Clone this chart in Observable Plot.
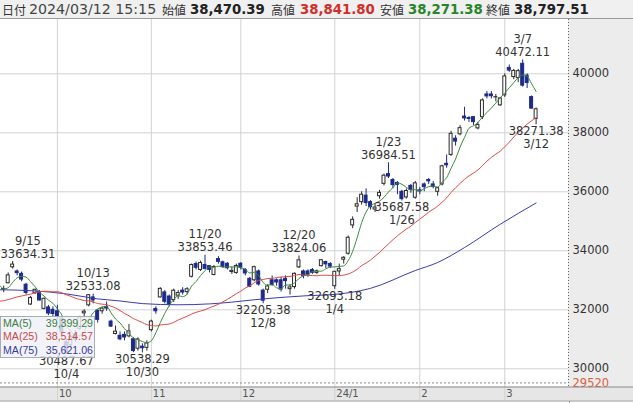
<!DOCTYPE html>
<html><head><meta charset="utf-8">
<script src="https://cdn.jsdelivr.net/npm/d3@7"></script>
<script src="https://cdn.jsdelivr.net/npm/@observablehq/plot@0.6"></script>
<style>
body{margin:0;width:633px;height:403px;overflow:hidden;background:#fff;position:relative;font-family:"DejaVu Sans",sans-serif}
#hdr{position:absolute;left:0;top:0;width:633px;height:18px;background:#f0f0f0;border-bottom:1px solid #9a9a9a}
#hdr span{position:absolute;top:0;line-height:19px;white-space:nowrap}
#hdr .jp{font-family:"Noto Sans CJK JP",sans-serif;font-size:12px;color:#333}
#hdr .dt{font-family:"DejaVu Sans";font-size:14.2px;color:#444}
#hdr .num{font-family:"DejaVu Sans";font-weight:bold;font-size:13.3px;color:#222}
#chart{position:absolute;left:0;top:19px}
#legend{position:absolute;left:0;top:316px;width:93px;height:40px;background:rgba(238,240,247,0.82);border:1px solid #a9abb9;font-family:"Liberation Sans",Arial,sans-serif;font-size:10.6px}
#legend .row{display:flex;justify-content:space-between;height:13.4px;line-height:13.4px;padding:0 1px 0 2px}
</style></head>
<body>
<div id="hdr"></div>
<div id="chart"></div>
<div id="legend"></div>
<script>
// ---- header values ----
const headerLabels = ["日付", "始値", "高値", "安値", "終値"];
const headerDate = "2024/03/12 15:15";
const headerValues = ["38,470.39", "38,841.80", "38,271.38", "38,797.51"];

// ---- daily candles (Nikkei 225) ----
const dates = ["9/13","9/14","9/15","9/19","9/20","9/21","9/22","9/25","9/26","9/27","9/28","9/29",
"10/2","10/3","10/4","10/5","10/6","10/10","10/11","10/12","10/13","10/16","10/17","10/18","10/19","10/20","10/23","10/24","10/25","10/26","10/27","10/30","10/31",
"11/1","11/2","11/6","11/7","11/8","11/9","11/10","11/13","11/14","11/15","11/16","11/17","11/20","11/21","11/22","11/24","11/27","11/28","11/29","11/30",
"12/1","12/4","12/5","12/6","12/7","12/8","12/11","12/12","12/13","12/14","12/15","12/18","12/19","12/20","12/21","12/22","12/25","12/26","12/27","12/28","12/29",
"1/4","1/5","1/9","1/10","1/11","1/12","1/15","1/16","1/17","1/18","1/19","1/22","1/23","1/24","1/25","1/26","1/29","1/30","1/31",
"2/1","2/2","2/5","2/6","2/7","2/8","2/9","2/13","2/14","2/15","2/16","2/19","2/20","2/21","2/22","2/26","2/27","2/28","2/29",
"3/1","3/4","3/5","3/6","3/7","3/8","3/11","3/12"];

const opens = [32690,32900,33440,33300,33220,32850,32180,32560,32600,32030,32080,32000,
31950,31700,30900,30800,31150,31350,31880,32150,32420,31970,31950,32100,31600,31180,31120,31150,31100,31000,30680,30750,30710,
31310,32030,32420,32590,32450,32330,32480,32650,32600,33120,33550,33350,33520,33480,33180,33720,33610,33560,33280,33250,
33560,33350,33050,33000,33300,32650,32680,33000,33000,33000,33050,32700,32770,33440,33300,33300,33350,33250,33480,33620,33550,
32800,33300,33700,33900,34860,35500,35650,35870,35650,35400,35850,36270,36600,36400,36300,36000,35810,36200,35800,
36050,36250,36400,36250,36000,36250,36950,37250,37800,37950,38550,38500,38530,38150,38530,39300,39300,39200,38930,
39270,40200,39890,39860,40340,39940,39210,38470.39];

const highs = [32800,33250,33634.31,33350,33280,32900,32450,32700,32650,32400,32150,32100,
32150,31720,31000,31150,31300,31780,32000,32520,32533.08,32000,32100,32260,31650,31450,31250,31250,31500,31050,31050,30850,30950,
31650,32100,32750,32650,32500,32700,32650,32750,32750,33550,33620,33650,33853.46,33500,33500,33800,33650,33600,33450,33550,
33600,33400,33100,33480,33350,32700,32850,33150,33050,33100,33150,32850,33250,33824.06,33350,33350,33400,33350,33700,33650,33600,
33300,33550,33800,34500,35150,35800,36000,36100,35700,35600,36050,36600,36984.51,36450,36350,36050,36100,36250,36350,
36150,36300,36450,36350,36150,36900,37250,38050,37900,38250,38865,38550,38550,38350,39150,39400,39400,39300,39200,
40000,40300,40150,40150,40472.11,40000,39250,38841.80];

const lows = [32580,32880,33380,33150,32950,32500,32150,32520,32300,32000,31800,31750,
31650,31200,30487.67,30700,30900,31300,31700,32100,32200,31550,31850,31950,31400,31150,30950,30950,31050,30550,30600,30538.29,30600,
31250,31850,32400,32200,32100,32250,32350,32500,32500,33080,33350,33300,33350,33250,33150,33550,33400,33350,33200,33200,
33350,33150,32750,32950,32800,32205.38,32550,32800,32800,32600,32700,32500,32700,33400,33050,33100,33200,33200,33450,33400,33400,
32693.18,33150,33550,33850,34750,35300,35550,35500,35380,35300,35750,36200,36450,36100,35900,35687.58,35750,35950,35750,
35900,36000,36250,36100,35850,36200,36800,37200,37550,37900,38400,38350,38250,38100,38450,39150,39150,39050,38900,
39200,40050,39800,39700,39550,39500,38800,38271.38];

const closes = [32706.52,33168.10,33533.09,33242.59,33023.78,32571.03,32402.41,32678.62,32315.05,32371.90,31872.52,31857.62,
31759.88,31237.94,30526.88,31075.36,30994.67,31746.53,31936.51,32494.66,32315.99,31659.03,32040.29,32042.25,31430.62,31259.36,30999.55,31062.35,31269.92,30601.78,30991.69,30696.96,30858.85,
31601.65,31949.89,32708.48,32271.82,32166.48,32646.46,32568.11,32585.11,32695.93,33519.70,33424.41,33585.20,33388.03,33354.14,33451.83,33625.53,33447.67,33408.39,33321.22,33486.89,
33431.51,33231.27,32775.82,33445.90,32858.31,32307.86,32791.80,32843.71,32926.35,32686.25,32970.55,32758.98,33219.39,33675.94,33140.47,33169.05,33254.03,33305.85,33681.24,33539.62,33464.17,
33288.29,33377.42,33763.18,34441.72,35049.86,35577.11,35901.79,35619.18,35477.75,35466.17,35963.27,36546.95,36517.57,36226.48,36236.47,35751.07,36026.94,36065.86,36286.71,
36011.46,36158.02,36354.16,36160.66,36119.92,36863.28,36897.42,37963.97,37703.32,38157.94,38487.24,38470.38,38363.61,38262.16,39098.68,39233.71,39239.52,39208.03,39166.19,
39910.82,40109.23,40097.63,40090.78,39598.71,39688.94,38820.49,38797.51];

// closes before the visible window (for moving-average warm-up), 8/9 .. 9/12
const priorCloses = [32204.33,32473.65,32059.91,32238.89,31766.82,31626.00,31450.76,31565.64,31856.71,32010.26,32287.21,31624.28,
32169.99,32226.97,32333.46,32619.34,32710.62,32939.18,32745.49,33241.02,32991.08,32606.84,32467.76,32776.37];

// 75-day moving average (candle index -> value)
const ma75Idx = [-1, 7, 14, 21, 26, 31, 39, 46, 51, 56, 63, 68, 73, 82, 92, 97, 103, 111, 119];
const ma75Val = [32680, 32640, 32540, 32370, 32300, 32210, 32170, 32200, 32260, 32340, 32430, 32480, 32510, 32728, 33332, 33604, 34110, 34902, 35621];

// legend
const legendNames = ["MA(5)", "MA(25)", "MA(75)"];
const legendValues = ["39,399.29", "38,514.57", "35,621.06"];

// annotations
const highMarks = ["9/15", "10/13", "11/20", "12/20", "1/23", "3/7"];
const lowMarks = ["10/4", "10/30", "12/8", "1/4", "1/26", "3/12"];

// axes
const yTicks = [30000, 32000, 34000, 36000, 38000, 40000];
const bottomRef = 29520;
const monthStarts = ["10/2", "11/1", "12/1", "1/4", "2/1", "3/1"];
const monthLabels = ["10", "11", "12", "24/1", "2", "3"];

// ---------- header ----------
const hdr = document.getElementById("hdr");
const hdrItems = [
  ["jp", headerLabels[0], 2], ["dt", headerDate, 29],
  ["jp", headerLabels[1], 162], ["num", headerValues[0], 190],
  ["jp", headerLabels[2], 271], ["num", headerValues[1], 300],
  ["jp", headerLabels[3], 380], ["num", headerValues[2], 408],
  ["jp", headerLabels[4], 486], ["num", headerValues[3], 514]
];
const hdrColors = {3: "#222", 5: "#d22f2a", 7: "#2a852a", 9: "#222"};
hdrItems.forEach(([cls, txt, x], k) => {
  const s = document.createElement("span");
  s.className = cls; s.textContent = txt; s.style.left = x + "px";
  if (hdrColors[k]) s.style.color = hdrColors[k];
  hdr.appendChild(s);
});

// ---------- legend ----------
const legColors = ["#3d7d3d", "#c94b4b", "#3b3b9e"];
const leg = document.getElementById("legend");
legendNames.forEach((n, k) => {
  const r = document.createElement("div");
  r.className = "row"; r.style.color = legColors[k];
  r.innerHTML = `<span>${n}</span><span>${legendValues[k]}</span>`;
  leg.appendChild(r);
});

// ---------- chart ----------
const W = 633, H = 384, MR = 65, MB = 16.5;
const plotW = W - MR;
const xDomain = [-0.715, 126.24];
const yDomain = [29383, 41841];
const DOWN = "#1c2a8a", UPS = "#2a2a2a";

const candles = dates.map((d, i) => ({i, date: d, open: opens[i], high: highs[i], low: lows[i], close: closes[i], up: closes[i] >= opens[i]}));
const maData = [
  ...priorCloses.map((c, k) => ({i: k - priorCloses.length, close: c})),
  ...closes.map((c, i) => ({i, close: c}))
];
const ma75 = ma75Idx.map((i, k) => ({i, v: ma75Val[k]}));
const monthIdx = monthStarts.map(d => dates.indexOf(d));

// text width measure
const ctx = document.createElement("canvas").getContext("2d");
ctx.font = "11.5px 'DejaVu Sans'";
const px = i => (i - xDomain[0]) / (xDomain[1] - xDomain[0]) * plotW;

const annMarks = [];
function addAnn(dateStr, isHigh) {
  const i = dates.indexOf(dateStr);
  const v = isHigh ? highs[i] : lows[i];
  const valTxt = v.toFixed(2);
  const w = Math.max(ctx.measureText(valTxt).width, ctx.measureText(dateStr).width);
  const p = px(i);
  let dx = 0;
  if (p - w / 2 < 0) dx = w / 2 - p;
  if (p + w / 2 > plotW) dx = plotW - w / 2 - p;
  const d = [{i, v}];
  const base = {x: "i", y: "v", dx, fill: "#333", fontSize: 11.5, lineAnchor: "middle"};
  if (isHigh) {
    annMarks.push(Plot.text(d, {...base, text: () => valTxt, dy: -7.5}));
    annMarks.push(Plot.text(d, {...base, text: () => dateStr, dy: -20.5}));
  } else {
    annMarks.push(Plot.text(d, {...base, text: () => valTxt, dy: 6.5}));
    annMarks.push(Plot.text(d, {...base, text: () => dateStr, dy: 19.5}));
  }
}
highMarks.forEach(d => addAnn(d, true));
lowMarks.forEach(d => addAnn(d, false));

const chart = Plot.plot({
  width: W, height: H,
  marginLeft: 0, marginRight: MR, marginTop: 0, marginBottom: MB,
  x: {domain: xDomain, axis: null},
  y: {domain: yDomain, axis: null},
  color: {type: "identity"},
  style: {fontFamily: "DejaVu Sans", fontSize: "11.5px", color: "#333", background: "#fff", overflow: "visible"},
  marks: [
    Plot.gridY(yTicks, {stroke: "#d2d2d2", strokeOpacity: 1}),
    Plot.gridX(monthIdx, {stroke: "#d2d2d2", strokeOpacity: 1, insetBottom: -14}),
    Plot.ruleY([bottomRef], {stroke: "#8a8a8a", strokeDasharray: "2,2"}),
    Plot.ruleX(candles, {x: "i", y1: "low", y2: "high", stroke: d => d.up ? UPS : DOWN, strokeWidth: 1}),
    Plot.rect(candles, {x1: d => d.i - 0.33, x2: d => d.i + 0.33, y1: "open", y2: "close",
      fill: d => d.up ? "#ffffff" : DOWN, stroke: d => d.up ? UPS : DOWN, strokeWidth: 1}),
    Plot.line(ma75, {x: "i", y: "v", stroke: "#3a3ab4", strokeWidth: 1, curve: "monotone-x", clip: true}),
    Plot.lineY(maData, Plot.windowY({k: 25, anchor: "end"}, {x: "i", y: "close", stroke: "#e04a44", strokeWidth: 1, curve: "monotone-x", clip: true})),
    Plot.lineY(maData, Plot.windowY({k: 5, anchor: "end"}, {x: "i", y: "close", stroke: "#3d8a3d", strokeWidth: 1, curve: "monotone-x", clip: true})),
    ...annMarks,
    Plot.axisY(yTicks, {anchor: "right", tickSize: 0, tickPadding: 4, tickFormat: d => String(d), fontSize: 11.5, color: "#333", label: null}),
    Plot.axisY([bottomRef], {anchor: "right", tickSize: 0, tickPadding: 4, tickFormat: d => String(d), fontSize: 11.5, color: "#e0603c", label: null}),
    Plot.text(monthIdx, {x: d => d, text: (d, k) => monthLabels[k], frameAnchor: "bottom", dy: 7, dx: 1.5,
      textAnchor: "start", lineAnchor: "middle", fontSize: 10, fill: "#555"})
  ]
});
document.getElementById("chart").appendChild(chart);

// decorative panel backgrounds and borders
const svg = d3.select(chart);
const fb = H - MB;
svg.insert("rect", ":first-child").attr("x", 0).attr("y", fb).attr("width", W).attr("height", 14).attr("fill", "#e6e6e6");
svg.insert("rect", ":first-child").attr("x", plotW).attr("y", 0).attr("width", MR).attr("height", fb).attr("fill", "#ececec");
svg.append("line").attr("x1", plotW + 0.5).attr("x2", plotW + 0.5).attr("y1", 0).attr("y2", fb)
  .attr("stroke", "#666").attr("stroke-dasharray", "1,2");
svg.append("line").attr("x1", 0).attr("x2", W).attr("y1", fb + 0.5).attr("y2", fb + 0.5).attr("stroke", "#888");
svg.append("line").attr("x1", 0).attr("x2", W).attr("y1", fb + 14.5).attr("y2", fb + 14.5).attr("stroke", "#999");
svg.append("line").attr("x1", plotW + 1.5).attr("x2", plotW + 1.5).attr("y1", fb + 14.5).attr("y2", H).attr("stroke", "#999");
</script>
</body></html>
